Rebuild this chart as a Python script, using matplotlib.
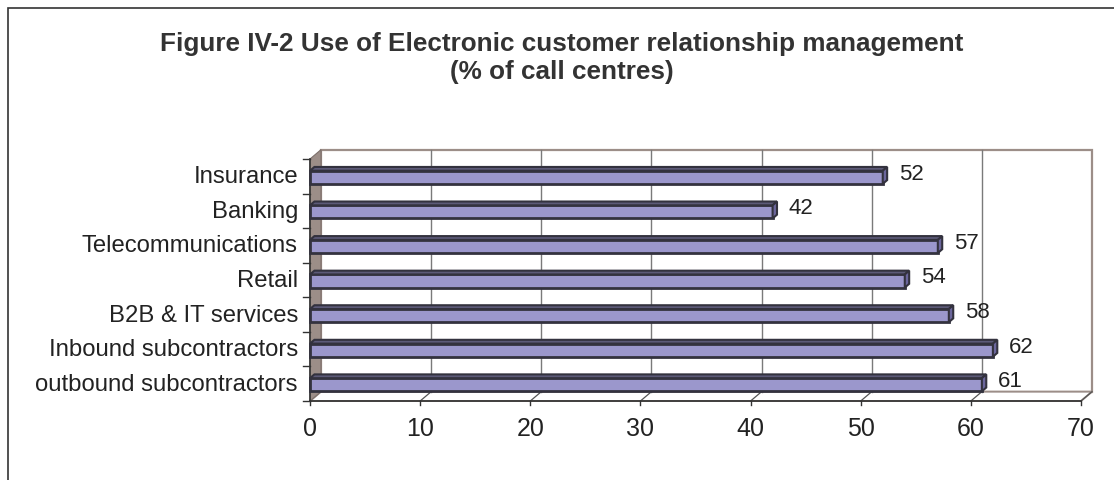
import matplotlib
matplotlib.use("Agg")
import matplotlib.pyplot as plt
from matplotlib.patches import Polygon, Rectangle

# Daten
kategorien = ["outbound subcontractors", "Inbound subcontractors", "B2B & IT services",
              "Retail", "Telecommunications", "Banking", "Insurance"]
werte = [61, 62, 58, 54, 57, 42, 52]
xticks = [0, 10, 20, 30, 40, 50, 60, 70]

titel = "Figure IV-2 Use of Electronic customer relationship management\n(% of call centres)"

plt.rcParams['font.family'] = ['Liberation Sans', 'DejaVu Sans']

W, H = 1114, 481
fig = plt.figure(figsize=(W / 100, H / 100), dpi=100)

# Rahmen der Grafik (rechts/unten ausserhalb des Bildes)
fig.patches.append(Rectangle((8 / W, -0.1), 1.2, (H - 9) / H + 0.1, transform=fig.transFigure,
                             fill=False, edgecolor="#333333", linewidth=1.2))

fig.text(562 / W, 1 - 58 / H, titel, ha="center", va="center", fontsize=18.8,
         fontweight="bold", color="#333333", linespacing=1.22)

# Achsen: Vorderkante des Diagramms
x0, x1 = 310, 1081
y0, y1 = 402, 160
ax = fig.add_axes([x0 / W, (H - y0) / H, (x1 - x0) / W, (y0 - y1) / H])
ax.set_xlim(0, 70)
ax.set_ylim(-0.5, 6.5)
ax.axis("off")

# Tiefe der Waende in Dateneinheiten
dx, dy = 1.0, 0.27
wandfarbe = "#9c8e88"

# Rueckwand
ax.add_patch(Rectangle((dx, -0.5 + dy), 70, 7, facecolor="white", edgecolor=wandfarbe,
                       linewidth=1.6, clip_on=False, zorder=1))
# Gitterlinien Rueckwand
for v in xticks[1:-1]:
    ax.plot([v + dx, v + dx], [-0.5 + dy, 6.5 + dy], color="#7a7a7a", linewidth=1,
            clip_on=False, zorder=2)
# Boden
ax.add_patch(Polygon([(0, -0.5), (70, -0.5), (70 + dx, -0.5 + dy), (dx, -0.5 + dy)],
                     closed=True, facecolor="white", edgecolor=wandfarbe, linewidth=1.4,
                     clip_on=False, zorder=1))
for v in xticks[1:]:
    ax.plot([v, v + dx], [-0.5, -0.5 + dy], color="#555555", linewidth=0.9,
            clip_on=False, zorder=2)
# linke Seitenwand
ax.add_patch(Polygon([(0, -0.5), (dx, -0.5 + dy), (dx, 6.5 + dy), (0, 6.5)], closed=True,
                     facecolor=wandfarbe, edgecolor="#7d706b", linewidth=0.8,
                     clip_on=False, zorder=2))

# Achsenlinien und Striche
ax.plot([0, 70], [-0.5, -0.5], color="#333333", linewidth=1.2, clip_on=False, zorder=3)
ax.plot([0, 0], [-0.5, 6.5], color="#333333", linewidth=1.2, clip_on=False, zorder=3)
for v in xticks:
    ax.plot([v, v], [-0.5, -0.62], color="#333333", linewidth=1, clip_on=False, zorder=3)
    ax.annotate(str(v), (v, -0.5), xytext=(0, -11), textcoords="offset points",
                ha="center", va="top", fontsize=18, color="#222222")
for i in range(len(kategorien) + 1):
    ax.plot([-0.6, 0], [i - 0.5, i - 0.5], color="#333333", linewidth=1, clip_on=False,
            zorder=3)

# Balken (3D-Optik)
bh = 0.38
bdx, bdy = 0.4, 0.11
farbe = "#9b97cc"
rand = "#33323e"
for i, (name, v) in enumerate(zip(kategorien, werte)):
    yc = i - 0.03
    ax.barh(yc, v, height=bh, color=farbe, edgecolor=rand, linewidth=2, zorder=5,
            clip_on=False)
    top = yc + bh / 2
    ax.add_patch(Polygon([(0, top), (bdx, top + bdy), (v + bdx, top + bdy), (v, top)],
                         closed=True, facecolor="#5c5a78", edgecolor=rand, linewidth=1.5,
                         zorder=5, clip_on=False))
    ax.add_patch(Polygon([(v, top), (v + bdx, top + bdy), (v + bdx, yc - bh / 2 + bdy),
                          (v, yc - bh / 2)], closed=True, facecolor="#6b669c",
                         edgecolor=rand, linewidth=1.5, zorder=5, clip_on=False))
    ax.text(v + 1.45, yc + 0.12, str(v), ha="left", va="center", fontsize=16,
            color="#222222")
    ax.text(-1.1, i, name, ha="right", va="center", fontsize=17.2, color="#222222")

fig.savefig("out.png", dpi=100)
